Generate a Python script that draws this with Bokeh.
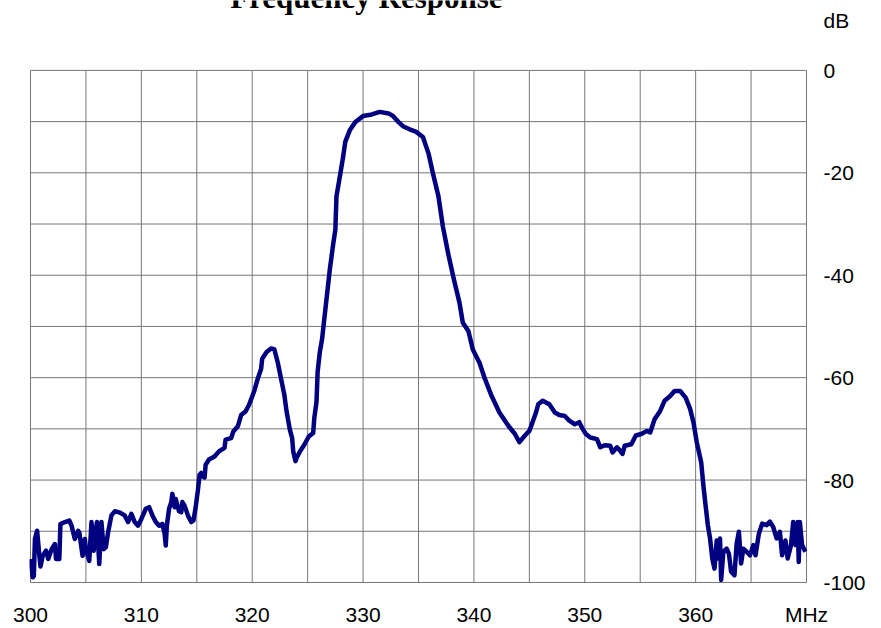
from bokeh.plotting import figure
from bokeh.models import FixedTicker, Label, LinearAxis, Range1d
from bokeh.embed import file_html
from bokeh.resources import INLINE

title_text = "Frequency Response"
x_unit = "MHz"
y_unit = "dB"
x_ticks = [300, 310, 320, 330, 340, 350, 360]
y_ticks = [0, -20, -40, -60, -80, -100]
x_grid = [300, 305, 310, 315, 320, 325, 330, 335, 340, 345, 350, 355, 360, 365, 370]
y_grid = [0, -10, -20, -30, -40, -50, -60, -70, -80, -90, -100]

freq = [
    300.0, 300.2, 300.3, 300.4, 300.6, 300.8, 300.9, 301.1, 301.4, 301.6,
    301.9, 302.2, 302.3, 302.6, 302.7, 303.1, 303.5, 303.7, 304.0, 304.3,
    304.4, 304.7, 304.9, 305.0, 305.3, 305.5, 305.7, 305.9, 306.0, 306.2,
    306.4, 306.6, 306.8, 307.0, 307.3, 307.6, 308.0, 308.5, 308.8, 309.1,
    309.4, 309.7, 310.0, 310.4, 310.7, 311.0, 311.3, 311.6, 311.9, 312.1,
    312.2, 312.3, 312.5, 312.7, 312.8, 313.0, 313.1, 313.4, 313.6, 313.7,
    313.9, 314.2, 314.5, 314.7, 314.9, 315.1, 315.25, 315.4, 315.55, 315.7,
    315.8, 316.1, 316.6, 317.0, 317.5, 317.6, 318.1, 318.3, 318.7, 319.0,
    319.4, 319.7, 320.2, 320.5, 320.8, 320.9, 321.3, 321.7, 322.0, 322.3,
    322.6, 322.9, 323.1, 323.4, 323.6, 323.7, 323.9, 324.0, 324.3, 324.7,
    325.1, 325.5, 325.6, 325.8, 325.9, 326.1, 326.3, 326.5, 327.0, 327.3,
    327.5, 327.6, 327.9, 328.2, 328.4, 328.8, 329.3, 330.0, 330.8, 331.5,
    332.3, 332.7, 333.2, 333.6, 334.2, 334.8, 335.4, 335.9, 336.3, 336.8,
    337.2, 337.7, 338.2, 338.7, 339.0, 339.5, 339.9, 340.5, 341.0, 341.6,
    342.3, 343.1, 343.7, 344.1, 344.6, 345.0, 345.6, 345.8, 346.2, 346.8,
    347.3, 347.7, 348.2, 348.6, 349.1, 349.5, 349.8, 350.1, 350.5, 351.1,
    351.4, 351.8, 352.3, 352.5, 352.9, 353.2, 353.4, 353.6, 354.2, 354.6,
    355.1, 355.6, 355.9, 356.3, 356.8, 357.2, 357.7, 358.1, 358.6, 359.1,
    359.5, 359.8, 360.1, 360.5, 360.7, 360.9, 361.1, 361.3, 361.5, 361.7,
    361.9, 362.0, 362.2, 362.3, 362.5, 362.8, 363.0, 363.2, 363.5, 363.7,
    363.9, 364.1, 364.3, 364.6, 364.9, 365.2, 365.4, 365.7, 366.0, 366.4,
    366.7, 367.0, 367.3, 367.6, 367.8, 368.1, 368.3, 368.6, 368.8, 369.0,
    369.2, 369.3, 369.4, 369.6, 369.9,
]
level_db = [
    -95.4, -99.0, -98.7, -91.5, -89.9, -94.8, -96.9, -94.8, -93.8, -95.4,
    -93.5, -92.5, -95.4, -95.4, -88.6, -88.2, -87.9, -88.9, -91.5, -89.9,
    -90.2, -94.8, -91.5, -93.5, -95.8, -88.2, -93.8, -89.5, -88.2, -96.4,
    -88.2, -93.5, -93.1, -90.2, -86.9, -86.1, -86.3, -86.9, -88.2, -86.6,
    -88.2, -88.9, -87.6, -85.6, -85.3, -86.9, -88.2, -88.9, -88.6, -90.5,
    -92.8, -88.9, -85.6, -84.3, -82.7, -85.3, -83.7, -86.1, -86.3, -84.3,
    -85.0, -86.9, -88.2, -87.9, -85.3, -82.0, -79.0, -78.6, -79.3, -79.5,
    -77.0, -76.0, -75.4, -74.4, -73.7, -72.1, -71.8, -70.5, -69.5, -67.3,
    -66.6, -65.4, -62.5, -60.2, -58.3, -56.3, -55.0, -54.3, -54.5, -57.0,
    -60.2, -63.4, -66.6, -70.2, -71.8, -74.4, -76.3, -75.7, -74.4, -73.1,
    -71.5, -70.8, -67.9, -64.7, -58.9, -55.0, -52.5, -48.6, -38.9, -34.0,
    -31.1, -24.6, -20.8, -16.9, -13.9, -11.7, -10.1, -8.9, -8.6, -8.1,
    -8.4, -8.9, -10.1, -10.9, -11.5, -12.0, -13.0, -16.2, -20.1, -24.6,
    -30.5, -36.0, -40.9, -45.4, -49.3, -50.9, -54.5, -57.1, -60.3, -63.6,
    -66.8, -69.4, -71.0, -72.6, -71.3, -70.4, -66.8, -65.2, -64.5, -65.2,
    -66.8, -67.3, -67.5, -68.4, -69.1, -68.7, -70.0, -71.0, -71.7, -72.0,
    -73.6, -73.2, -73.3, -74.6, -73.6, -74.3, -74.9, -73.3, -73.0, -71.3,
    -71.0, -70.4, -70.7, -68.1, -66.5, -64.5, -63.6, -62.6, -62.6, -63.9,
    -66.1, -68.7, -72.6, -76.5, -81.1, -85.0, -88.8, -91.4, -95.3, -97.3,
    -91.8, -95.3, -91.4, -99.5, -94.0, -93.4, -94.4, -97.9, -98.6, -92.4,
    -90.1, -96.3, -93.4, -94.0, -94.7, -92.7, -94.7, -90.5, -88.5, -88.8,
    -88.1, -89.2, -91.4, -90.1, -94.7, -91.8, -95.3, -92.7, -88.2, -92.7,
    -88.2, -96.0, -88.2, -92.7, -94.0,
]

# plotting area: x 300..370 MHz, y -100..0 dB; the frame is extended upward
# so the unit label and the clipped title can sit inside it
x_lo, x_hi = x_grid[0], x_grid[-1]
y_lo, y_hi = y_grid[-1], y_grid[0]
pad_x = 0.09
y_top = 13.65
db_label_pos = 9.65
title_pos = (330.3, 14.3)

p = figure(
    width=881, height=628,
    output_backend="svg", toolbar_location=None,
    x_range=Range1d(x_lo - pad_x, x_hi + pad_x),
    y_range=Range1d(y_lo - 0.2, y_top),
    x_axis_location=None, y_axis_location=None,
    min_border_left=29, min_border_right=74,
    min_border_top=0, min_border_bottom=44,
    background_fill_color="white", border_fill_color="white",
)
p.outline_line_color = None
p.xgrid.grid_line_color = None
p.ygrid.grid_line_color = None

grid_color = "#777777"
p.segment(x0=x_grid, x1=x_grid, y0=[y_lo] * len(x_grid), y1=[y_hi] * len(x_grid),
          line_color=grid_color, line_width=1)
p.segment(x0=[x_lo] * len(y_grid), x1=[x_hi] * len(y_grid), y0=y_grid, y1=y_grid,
          line_color=grid_color, line_width=1)

font = "Liberation Sans"

x_axis_ticks = x_ticks + [x_hi]
xax = LinearAxis(ticker=FixedTicker(ticks=x_axis_ticks))
xax.axis_line_color = None
xax.major_tick_line_color = None
xax.minor_tick_line_color = None
xax.major_tick_out = 0
xax.major_tick_in = 0
xax.minor_tick_out = 0
xax.major_label_text_font = font
xax.major_label_text_font_size = "21px"
xax.major_label_text_color = "black"
xax.major_label_standoff = 19
x_over = {t: str(t) for t in x_ticks}
x_over[x_hi] = x_unit
xax.major_label_overrides = x_over
p.add_layout(xax, "below")

y_axis_ticks = y_ticks + [db_label_pos]
yax = LinearAxis(ticker=FixedTicker(ticks=y_axis_ticks))
yax.axis_line_color = None
yax.major_tick_line_color = None
yax.minor_tick_line_color = None
yax.major_label_text_font = font
yax.major_label_text_font_size = "21px"
yax.major_label_text_color = "black"
yax.major_label_standoff = 10
y_over = {t: str(t) for t in y_ticks}
y_over[db_label_pos] = y_unit
yax.major_label_overrides = y_over
p.add_layout(yax, "right")

p.line(freq, level_db, line_color="#000080", line_width=4.5, line_join="round")

p.add_layout(Label(x=title_pos[0], y=title_pos[1], text=title_text, text_align="center",
                   text_baseline="alphabetic", text_font="Liberation Serif",
                   text_font_style="bold", text_font_size="31px", text_color="black"))

open("out.html", "w").write(file_html(p, INLINE))
